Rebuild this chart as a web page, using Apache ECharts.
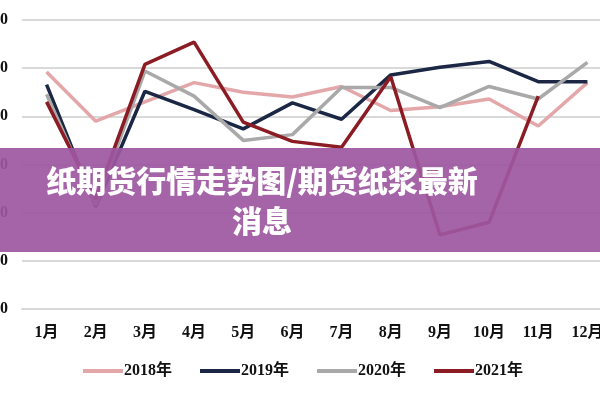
<!DOCTYPE html>
<html>
<head>
<meta charset="utf-8">
<script src="https://cdn.jsdelivr.net/npm/echarts@6/dist/echarts.min.js"></script>
<style>
  html, body { margin: 0; padding: 0; background: #fff; }
  #chart { width: 600px; height: 400px; }
</style>
</head>
<body>
<div id="chart"></div>
<script>
const months = ['1月', '2月', '3月', '4月', '5月', '6月', '7月', '8月', '9月', '10月', '11月', '12月'];
const seriesNames = ['2018年', '2019年', '2020年', '2021年'];
const values2018 = [5460, 4950, 5150, 5350, 5250, 5200, 5310, 5060, 5100, 5180, 4900, 5350];
const values2019 = [5330, 4060, 5260, 5070, 4870, 5140, 4970, 5430, 5510, 5570, 5360, 5360];
const values2020 = [5230, 4080, 5470, 5210, 4750, 4810, 5300, 5300, 5090, 5310, 5180, 5560];
const values2021 = [5150, 4140, 5540, 5770, 4940, 4740, 4680, 5410, 3770, 3900, 5210, null];
const bannerTitle = '纸期货行情走势图/期货纸浆最新\n消息';

const colors = ['#e3a6a9', '#1b2745', '#a9a9a9', '#8c1c24'];
const serifFont = "'Liberation Serif', 'Noto Sans CJK SC', serif";

const allValues = [values2018, values2019, values2020, values2021];

const option = {
  animation: false,
  color: colors,
  grid: { left: 22, top: 20, width: 590, bottom: 91, containLabel: false, outerBoundsMode: 'none' },
  legend: {
    bottom: 16,
    left: 78,
    icon: 'rect',
    itemWidth: 40,
    itemHeight: 4,
    itemGap: 28,
    textStyle: { fontFamily: serifFont, fontWeight: 'bold', fontSize: 16, color: '#111', padding: [0, 0, 0, -4] },
    data: seriesNames
  },
  xAxis: {
    type: 'category',
    data: months,
    boundaryGap: true,
    axisLine: { lineStyle: { color: '#d9d9d9', width: 2 } },
    axisTick: { show: false },
    axisLabel: { margin: 16, fontFamily: serifFont, fontWeight: 'bold', fontSize: 16, color: '#111' }
  },
  yAxis: {
    type: 'value',
    min: 3000,
    max: 6000,
    interval: 500,
    axisLine: { show: false },
    axisTick: { show: false },
    axisLabel: { margin: 14, fontFamily: serifFont, fontWeight: 'bold', fontSize: 16, color: '#111' },
    splitLine: { lineStyle: { color: '#d9d9d9', width: 2 } }
  },
  series: seriesNames.map((name, i) => ({
    name: name,
    type: 'line',
    data: allValues[i],
    symbol: 'none',
    lineStyle: { width: 3.5 },
    z: i === 3 ? 5 : 3
  })),
  graphic: [
    {
      type: 'rect',
      z: 100,
      shape: { x: 0, y: 148, width: 600, height: 104 },
      style: { fill: 'rgba(157, 87, 160, 0.92)' }
    },
    {
      type: 'text',
      z: 101,
      x: 262,
      y: 201,
      style: {
        text: bannerTitle,
        fill: '#fff',
        fontFamily: "'Noto Sans CJK SC', sans-serif",
        fontWeight: 900,
        fontSize: 30,
        lineHeight: 40,
        align: 'center',
        verticalAlign: 'middle'
      }
    }
  ]
};

const chart = echarts.init(document.getElementById('chart'));
chart.setOption(option);
</script>
</body>
</html>
